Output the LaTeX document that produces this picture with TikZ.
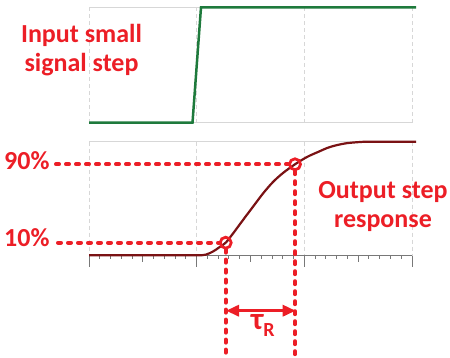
\documentclass[tikz,border=0pt]{standalone}
\usepackage{fontspec}
\setmainfont{Carlito}
\usetikzlibrary{arrows.meta}
\definecolor{lblred}{RGB}{236,30,38}
\definecolor{stepgreen}{RGB}{30,122,60}
\definecolor{curvered}{RGB}{122,18,20}
\definecolor{gridgray}{RGB}{215,215,215}
\definecolor{tickgray}{RGB}{120,120,120}
\tikzset{
  lbl/.style={text=lblred,font=\bfseries\fontsize{26}{29.5}\selectfont,inner sep=0pt},
  gridv/.style={gridgray,line width=1pt,dash pattern=on 4pt off 3pt},
  frameline/.style={gridgray,line width=1pt},
  reddash/.style={lblred,line width=4pt,line cap=round,dash pattern=on 3pt off 7pt},
  marker/.style={circle,draw=lblred,line width=2.8pt,minimum size=11pt,inner sep=0pt},
  ticks/.style={tickgray,line width=1pt},
}
\begin{document}
\begin{tikzpicture}[x=1pt,y=-1pt]
\useasboundingbox (0,0) rectangle (450,358);
% ---------- top plot ----------
\foreach \gx in {89,196.5,304.3,412}{\draw[gridv] (\gx,7.3) -- (\gx,122.7);}
\draw[frameline] (89,7.3) -- (412,7.3);
\draw[frameline] (89,122.7) -- (412,122.7);
\draw[stepgreen,line width=2.5pt] (89,122.7) -- (192.5,122.7) -- (201,7.3) -- (416,7.3);
\node[lbl,align=center,anchor=north] (inlbl) at (81.5,24) {Input small\\signal step};
% ---------- bottom plot ----------
\foreach \gx in {89,196.5,304.3,412}{\draw[gridv] (\gx,141.7) -- (\gx,256);}
\draw[frameline] (89,141.7) -- (412,141.7);
\draw[ticks] (89,256) -- (412,256);
\foreach \i in {0,...,30}{
  \pgfmathsetmacro{\tx}{89+\i*323/30}
  \pgfmathtruncatemacro{\m}{mod(\i,10)}
  \pgfmathtruncatemacro{\h}{mod(\i,5)}
  \ifnum\m=0 \draw[ticks] (\tx,256) -- (\tx,267);
  \else\ifnum\h=0 \draw[ticks] (\tx,256) -- (\tx,262);
  \else \draw[ticks] (\tx,256) -- (\tx,259.5);
  \fi\fi
}
\draw[curvered,line width=2.2pt,line join=round]
  (89,255.3) -- (200,255.3)
  plot[smooth,tension=0.55] coordinates {(200,255.3) (206,254.6) (213,251.5) (219,247.5) (225.7,242.7) (233,233.5) (243,220) (253,206.7) (263,193.5) (273,182) (283,173) (295,164.3) (307,157) (318,152) (330,147) (346,143.3) (365,141.7)}
  -- (416,141.7);
% ---------- markers & dashed guides ----------
\node[marker] (p90) at (295,164.3) {};
\node[marker] (p10) at (225.7,242.7) {};
\node[lbl,anchor=base west] (l90) at (4,170) {90\%};
\node[lbl,anchor=base west] (l10) at (4,246.7) {10\%};
\coordinate (h90) at (56,164.3);
\coordinate (h10) at (58,242.7);
\coordinate (v90) at (295,356);
\coordinate (v10) at (225.7,356);
\draw[reddash] (h90) -- (p90.west);
\draw[reddash] (h10) -- (p10.west);
\draw[reddash] (p90.south) -- (v90);
\draw[reddash] (p10.south) -- (v10);
\node[lbl,align=center,anchor=north] (outlbl) at (383,181) {Output step\\response};
% ---------- rise time ----------
\coordinate (a1) at (226,310.7);
\coordinate (a2) at (295.7,310.7);
\draw[lblred,line width=3.5pt,{Triangle[length=13pt,width=11pt]}-{Triangle[length=13pt,width=11pt]}] (a1) -- (a2);
\node[lbl,anchor=base west] (tau) at (251,330) {\fontsize{31}{31}\selectfont τ\raisebox{-6pt}{\fontsize{20}{20}\selectfont R}};
\end{tikzpicture}
\end{document}
